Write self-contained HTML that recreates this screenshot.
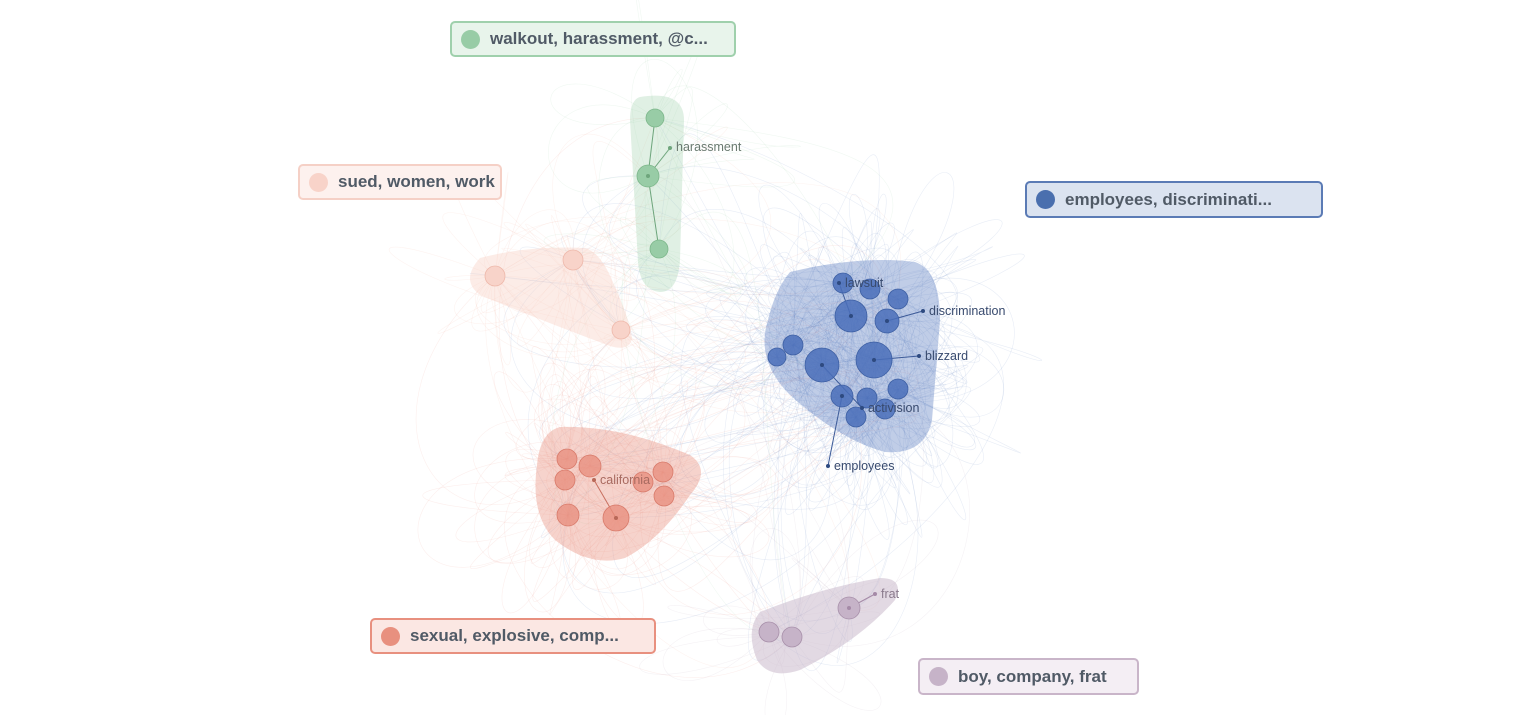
<!DOCTYPE html>
<html><head><meta charset="utf-8"><style>
html,body{margin:0;padding:0;background:#fff;width:1524px;height:715px;overflow:hidden;font-family:"Liberation Sans",sans-serif}
.lg{position:absolute;box-sizing:border-box;border-radius:5px;border:2px solid;font-size:17px;font-weight:bold;color:#505a66;display:flex;align-items:center;padding-left:9px;white-space:nowrap;overflow:hidden}
.lg i{display:inline-block;flex:0 0 19px;width:19px;height:19px;border-radius:50%;margin-right:10px}
svg{position:absolute;left:0;top:0}
svg text{font-family:"Liberation Sans",sans-serif;font-size:12.5px}
</style></head><body>
<svg width="1524" height="715" viewBox="0 0 1524 715">
<g id="edges" fill="none" stroke-width="0.6"></g>
<path d="M790,272 Q860,255 915,262 Q940,270 940,320 L932,420 Q925,455 885,452 Q840,440 790,395 Q755,360 768,320 Q775,290 790,272Z" fill="#4a6fba" fill-opacity="0.35"/>
<path d="M560,427 Q620,425 690,455 Q712,470 690,495 Q660,540 625,558 Q590,568 555,540 Q530,515 537,465 Q540,432 560,427Z" fill="#e8907f" fill-opacity="0.4"/>
<path d="M640,97 Q684,90 684,120 L680,260 Q678,292 660,292 Q640,290 638,262 L630,120 Q630,100 640,97Z" fill="#98cca6" fill-opacity="0.3"/>
<path d="M480,258 Q530,245 585,248 Q600,252 612,280 Q630,320 632,338 Q630,352 610,346 Q540,320 480,295 Q460,280 480,258Z" fill="#f8cfc4" fill-opacity="0.4"/>
<path d="M760,612 Q820,588 880,578 Q905,578 895,600 Q860,640 800,670 Q770,680 757,660 Q745,630 760,612Z" fill="#c6b3c8" fill-opacity="0.5"/>
<g stroke-width="1" fill="none">
<path d="M839,283 L851,316" stroke="#3c5a98"/><path d="M887,321 L923,311" stroke="#3c5a98"/><path d="M874,360 L919,356" stroke="#3c5a98"/><path d="M822,365 L862,408" stroke="#3c5a98"/><path d="M842,396 L828,466" stroke="#3c5a98"/>
<path d="M594,480 L616,518" stroke="#c87060"/><path d="M648,176 L670,148" stroke="#6ea57c"/><path d="M655,118 L648,176 L659,249" stroke="#6ea57c"/><path d="M849,608 L875,594" stroke="#a58aa7"/>
</g>
<g fill="#4a6fba" fill-opacity="0.85" stroke="#3d5fa3" stroke-width="0.8">
<circle cx="843" cy="283" r="10"/><circle cx="870" cy="289" r="10"/><circle cx="898" cy="299" r="10"/><circle cx="851" cy="316" r="16"/><circle cx="887" cy="321" r="12"/><circle cx="793" cy="345" r="10"/><circle cx="777" cy="357" r="9"/><circle cx="822" cy="365" r="17"/><circle cx="874" cy="360" r="18"/><circle cx="898" cy="389" r="10"/><circle cx="842" cy="396" r="11"/><circle cx="867" cy="398" r="10"/><circle cx="885" cy="409" r="10"/><circle cx="856" cy="417" r="10"/>
</g>
<g fill="#e8907f" fill-opacity="0.8" stroke="#d87a6a" stroke-width="0.8">
<circle cx="567" cy="459" r="10"/><circle cx="590" cy="466" r="11"/><circle cx="565" cy="480" r="10"/><circle cx="643" cy="482" r="10"/><circle cx="663" cy="472" r="10"/><circle cx="664" cy="496" r="10"/><circle cx="568" cy="515" r="11"/><circle cx="616" cy="518" r="13"/>
</g>
<g fill="#98cca6" stroke="#7cb68a" stroke-width="0.8"><circle cx="655" cy="118" r="9"/><circle cx="648" cy="176" r="11"/><circle cx="659" cy="249" r="9"/></g>
<g fill="#f8d3c9" stroke="#eeb8aa" stroke-width="0.8"><circle cx="495" cy="276" r="10"/><circle cx="573" cy="260" r="10"/><circle cx="621" cy="330" r="9"/></g>
<g fill="#c6b3c8" stroke="#a890aa" stroke-width="0.8"><circle cx="849" cy="608" r="11"/><circle cx="769" cy="632" r="10"/><circle cx="792" cy="637" r="10"/></g>
<g fill="#2e4a80"><circle cx="839" cy="283" r="2"/><circle cx="851" cy="316" r="2"/><circle cx="887" cy="321" r="2"/><circle cx="923" cy="311" r="2"/><circle cx="874" cy="360" r="2"/><circle cx="919" cy="356" r="2"/><circle cx="822" cy="365" r="2"/><circle cx="862" cy="408" r="2"/><circle cx="842" cy="396" r="2"/><circle cx="828" cy="466" r="2"/></g>
<g fill="#384a6e"><text x="845" y="287">lawsuit</text><text x="929" y="315">discrimination</text><text x="925" y="360">blizzard</text><text x="868" y="412">activision</text><text x="834" y="470">employees</text></g>
<circle cx="594" cy="480" r="2" fill="#b86858"/><circle cx="616" cy="518" r="2" fill="#b86858"/><text x="600" y="484" fill="#a86a60">california</text>
<circle cx="670" cy="148" r="2" fill="#6ea57c"/><circle cx="648" cy="176" r="2" fill="#6ea57c"/><text x="676" y="151" fill="#6a7a70">harassment</text>
<circle cx="875" cy="594" r="2" fill="#a58aa7"/><circle cx="849" cy="608" r="2" fill="#a58aa7"/><text x="881" y="598" fill="#8a7a8c">frat</text>
</svg>
<div class="lg" style="left:450px;top:21px;width:286px;height:36px;border-color:#9fd0ac;background:#e8f4eb"><i style="background:#98cca6"></i>walkout, harassment, @c...</div>
<div class="lg" style="left:298px;top:164px;width:204px;height:36px;border-color:#f5d0c6;background:#fdf1ee"><i style="background:#f8d3c9"></i>sued, women, work</div>
<div class="lg" style="left:1025px;top:181px;width:298px;height:37px;border-color:#5b7bb5;background:#dbe3f0"><i style="background:#4a6fae"></i>employees, discriminati...</div>
<div class="lg" style="left:370px;top:618px;width:286px;height:36px;border-color:#e8907f;background:#fbe7e3"><i style="background:#e8907f"></i>sexual, explosive, comp...</div>
<div class="lg" style="left:918px;top:658px;width:221px;height:37px;border-color:#c9b5c9;background:#f4eef4"><i style="background:#c6b3c8"></i>boy, company, frat</div>
<script>
(function(){
var s=12345;function r(){s=(s*16807)%2147483647;return s/2147483647;}
var g=document.getElementById('edges');
var groups=[
 {c:'#5a7ec0',n:[[843,283],[870,289],[898,299],[851,316],[887,321],[793,345],[777,357],[822,365],[874,360],[898,389],[842,396],[867,398],[885,409],[856,417]],k:260},
 {c:'#e8907f',n:[[567,459],[590,466],[565,480],[643,482],[663,472],[664,496],[568,515],[616,518]],k:110},
 {c:'#f0a898',n:[[495,276],[573,260],[621,330]],k:60},
 {c:'#98cca6',n:[[655,118],[648,176],[659,249]],k:30},
 {c:'#b8a0ba',n:[[849,608],[769,632],[792,637]],k:25}];
var all=[];groups.forEach(function(q){all=all.concat(q.n);});
var h='';
groups.forEach(function(q){
 for(var i=0;i<q.k;i++){
  var a=q.n[Math.floor(r()*q.n.length)];
  var b=r()<0.5?all[Math.floor(r()*all.length)]:q.n[Math.floor(r()*q.n.length)];
  var ang=r()*6.283,d=60+r()*170;
  var c1x=a[0]+Math.cos(ang)*d,c1y=a[1]+Math.sin(ang)*d;
  var ang2=ang+(r()-0.5)*2,c2x=b[0]+Math.cos(ang2)*d,c2y=b[1]+Math.sin(ang2)*d;
  h+='<path d="M'+a[0]+','+a[1]+' C'+c1x.toFixed(1)+','+c1y.toFixed(1)+' '+c2x.toFixed(1)+','+c2y.toFixed(1)+' '+b[0]+','+b[1]+'" stroke="'+q.c+'" stroke-opacity="0.14"/>';
 }
});
g.innerHTML=h;
})();
</script>
</body></html>
